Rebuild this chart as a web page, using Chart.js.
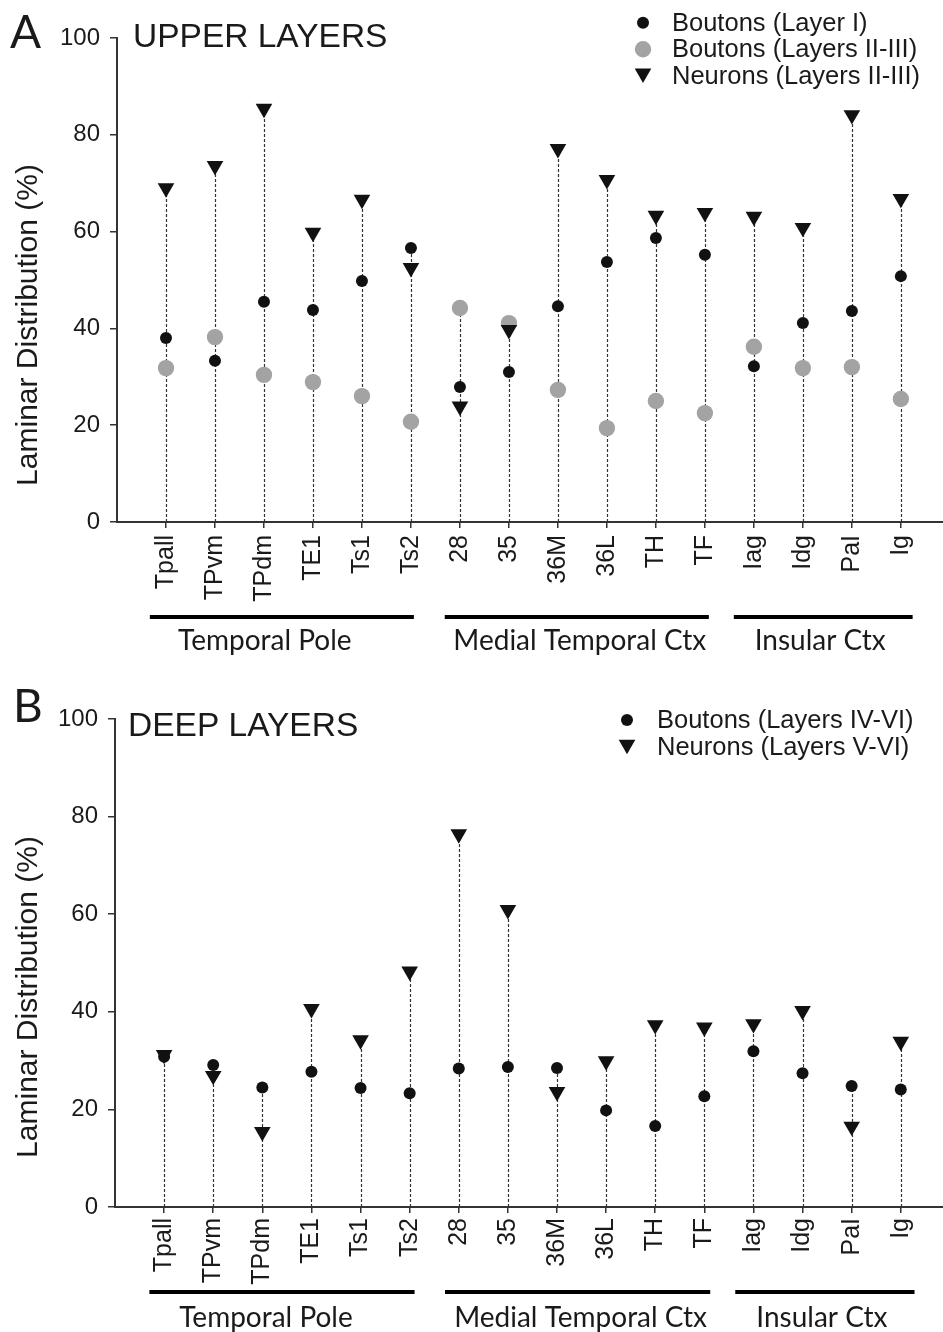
<!DOCTYPE html>
<html>
<head>
<meta charset="utf-8">
<script src="https://cdn.jsdelivr.net/npm/chart.js@4/dist/chart.umd.min.js"></script>
<style>
  html, body { margin: 0; padding: 0; background: #fff; }
  #wrap { position: relative; width: 943px; height: 1332px; }
  .panel { position: absolute; left: 0; width: 943px; height: 666px; }
</style>
</head>
<body>
<div id="wrap">
  <div class="panel" style="top:0"><canvas id="chartA"></canvas></div>
  <div class="panel" style="top:666px"><canvas id="chartB"></canvas></div>
</div>
<script>
// categories (cortical areas) and their groups
const categories = ['Tpall', 'TPvm', 'TPdm', 'TE1', 'Ts1', 'Ts2', '28', '35', '36M', '36L', 'TH', 'TF', 'Iag', 'Idg', 'PaI', 'Ig'];
const groupNames = ['Temporal Pole', 'Medial Temporal Ctx', 'Insular Ctx'];
const groupFirst = [0, 6, 12];
const groupLast = [5, 11, 15];
const yTicks = [0, 20, 40, 60, 80, 100];

// A - upper layers (%)
const upperBoutonsL1 = [38.0, 33.3, 45.5, 43.8, 49.8, 56.6, 27.9, 31.0, 44.6, 53.7, 58.7, 55.2, 32.2, 41.1, 43.6, 50.8];
const upperBoutonsL23 = [31.8, 38.2, 30.4, 28.9, 26.0, 20.7, 44.2, 41.1, 27.3, 19.4, 25.0, 22.5, 36.2, 31.8, 32.0, 25.4];
const upperNeurons = [69.0, 73.6, 85.4, 59.8, 66.6, 52.5, 23.9, 39.7, 77.1, 70.7, 63.3, 63.9, 63.1, 60.8, 84.1, 66.8];

// B - deep layers (%)
const deepBoutons = [30.8, 29.1, 24.5, 27.7, 24.4, 23.3, 28.4, 28.7, 28.5, 19.8, 16.6, 22.7, 31.9, 27.4, 24.8, 24.1];
const deepNeurons = [31.2, 26.9, 15.4, 40.6, 34.2, 48.3, 76.4, 60.9, 23.6, 29.9, 37.3, 36.8, 37.5, 40.2, 16.5, 33.9];

const SANS = '"Liberation Sans", Arial, sans-serif';
const HUMAN = 'Lato, "Open Sans", sans-serif';
const BLACK = '#111111';
const GREY = '#a3a3a3';

Chart.defaults.font.family = SANS;
Chart.defaults.color = '#1a1a1a';

function points(vals) {
  return vals.map((v, i) => ({ x: i, y: v }));
}

function circleSet(label, vals, color, r, order) {
  return { label: label, data: points(vals), backgroundColor: color, borderWidth: 0,
           pointStyle: 'circle', pointRadius: r, pointHoverRadius: r, order: order };
}

function triangleSet(label, vals) {
  return { label: label, data: points(vals), backgroundColor: BLACK, borderWidth: 0,
           pointStyle: 'triangle', pointRotation: 180, pointRadius: 9.6, pointHoverRadius: 9.6, order: 0 };
}

// dashed drop lines, panel letter, title, legend, y title and group bars
const decorPlugin = {
  id: 'decor',
  beforeDatasetsDraw(chart) {
    const ctx = chart.ctx, xs = chart.scales.x, ys = chart.scales.y;
    ctx.save();
    ctx.setLineDash([3, 2]);
    ctx.strokeStyle = '#333';
    ctx.lineWidth = 1.2;
    categories.forEach((c, i) => {
      const top = Math.max(...chart.data.datasets.map(d => d.data[i].y));
      const x = Math.round(xs.getPixelForValue(i)) + 0.5;
      ctx.beginPath();
      ctx.moveTo(x, ys.getPixelForValue(0));
      ctx.lineTo(x, ys.getPixelForValue(top));
      ctx.stroke();
    });
    ctx.restore();
  },
  afterDraw(chart, args, o) {
    const ctx = chart.ctx, xs = chart.scales.x, ys = chart.scales.y;
    ctx.save();
    ctx.fillStyle = '#1a1a1a';
    ctx.textBaseline = 'alphabetic';

    ctx.font = '46px ' + HUMAN;
    ctx.fillText(o.letter, o.letterX, o.letterY);

    ctx.font = '33.5px ' + SANS;
    ctx.fillText(o.title, o.titleX, o.titleY);

    // y axis title
    ctx.save();
    ctx.translate(o.yTitleX, o.yTitleY);
    ctx.rotate(-Math.PI / 2);
    ctx.textAlign = 'center';
    ctx.font = '30px ' + SANS;
    ctx.fillText('Laminar Distribution (%)', 0, 0);
    ctx.restore();

    // legend
    chart.data.datasets.forEach((ds, k) => {
      const y = o.legendY + k * o.legendStep;
      const r = ds.pointRadius;
      const py = ds.pointStyle === 'triangle' ? y - r / 4 : y;
      ctx.fillStyle = ds.backgroundColor;
      Chart.helpers.drawPoint(ctx, { pointStyle: ds.pointStyle, radius: r, rotation: ds.pointRotation || 0, borderWidth: 0 }, o.legendX, py);
      ctx.fillStyle = '#1a1a1a';
      ctx.font = '25.5px ' + SANS;
      ctx.textBaseline = 'middle';
      ctx.fillText(ds.label, o.legendTextX, y + 1);
    });

    // group bars under the tick labels
    const step = xs.getPixelForValue(1) - xs.getPixelForValue(0);
    ctx.textBaseline = 'alphabetic';
    ctx.textAlign = 'center';
    ctx.font = '28px ' + HUMAN;
    groupNames.forEach((name, g) => {
      const x1 = xs.getPixelForValue(groupFirst[g]) + o.barLeft[g] * step;
      const x2 = xs.getPixelForValue(groupLast[g]) + o.barRight[g] * step;
      ctx.fillStyle = '#000';
      ctx.fillRect(x1, ys.bottom + o.barDrop - 2, x2 - x1, 4);
      ctx.fillStyle = '#1a1a1a';
      ctx.fillText(name, (x1 + x2) / 2 + o.textShift[g], ys.bottom + o.textDrop);
    });
    ctx.restore();
  }
};

function makeChart(id, datasets, lay, decor) {
  return new Chart(document.getElementById(id), {
    type: 'scatter',
    data: { datasets: datasets },
    plugins: [decorPlugin],
    options: {
      responsive: true,
      maintainAspectRatio: false,
      animation: false,
      events: [],
      layout: { autoPadding: false, padding: { top: lay.top, left: 0, right: 0, bottom: 0 } },
      plugins: { legend: { display: false }, tooltip: { enabled: false }, decor: decor },
      scales: {
        x: {
          type: 'linear',
          min: -1,
          max: 15.86,
          afterBuildTicks: s => { s.ticks = categories.map((c, i) => ({ value: i })); },
          afterFit: s => { s.height = lay.xHeight; s.paddingLeft = 0; s.paddingRight = 0; },
          grid: { drawOnChartArea: false, drawTicks: true, tickLength: 6, color: '#333', lineWidth: 1.5 },
          border: { display: true, color: '#333', width: 2 },
          ticks: {
            autoSkip: false,
            minRotation: 90,
            maxRotation: 90,
            padding: lay.xPad,
            font: { size: 25 },
            callback: v => categories[v]
          }
        },
        y: {
          min: 0,
          max: 100,
          afterBuildTicks: s => { s.ticks = yTicks.map(v => ({ value: v })); },
          afterFit: s => { s.width = lay.yWidth; },
          grid: { drawOnChartArea: false, drawTicks: true, tickLength: 7, color: '#333', lineWidth: 1.5 },
          border: { display: true, color: '#333', width: 2 },
          ticks: { padding: 10, font: { size: 24 } }
        }
      }
    }
  });
}

makeChart('chartA', [
  circleSet('Boutons (Layer I)', upperBoutonsL1, BLACK, 6, 1),
  circleSet('Boutons (Layers II-III)', upperBoutonsL23, GREY, 8.2, 2),
  triangleSet('Neurons (Layers II-III)', upperNeurons)
], { top: 38, xHeight: 144, yWidth: 117, xPad: 7 }, {
  letter: 'A', letterX: 10, letterY: 48,
  title: 'UPPER LAYERS', titleX: 133, titleY: 47,
  yTitleX: 37, yTitleY: 325,
  legendX: 643, legendY: 22.7, legendStep: 26.5, legendTextX: 672,
  barDrop: 95, textDrop: 128,
  barLeft: [-0.33, -0.31, -0.41], barRight: [0.06, 0.08, 0.24], textShift: [-17, 3, -3]
});

makeChart('chartB', [
  circleSet('Boutons (Layers IV-VI)', deepBoutons, BLACK, 6, 1),
  triangleSet('Neurons (Layers V-VI)', deepNeurons)
], { top: 53, xHeight: 125, yWidth: 115, xPad: 5 }, {
  letter: 'B', letterX: 13, letterY: 56,
  title: 'DEEP LAYERS', titleX: 128, titleY: 70,
  yTitleX: 37, yTitleY: 331,
  legendX: 627, legendY: 54, legendStep: 27, legendTextX: 657,
  barDrop: 85, textDrop: 120,
  barLeft: [-0.3, -0.28, -0.37], barRight: [0.1, 0.12, 0.28], textShift: [-16, 3, -3]
});
</script>
</body>
</html>
